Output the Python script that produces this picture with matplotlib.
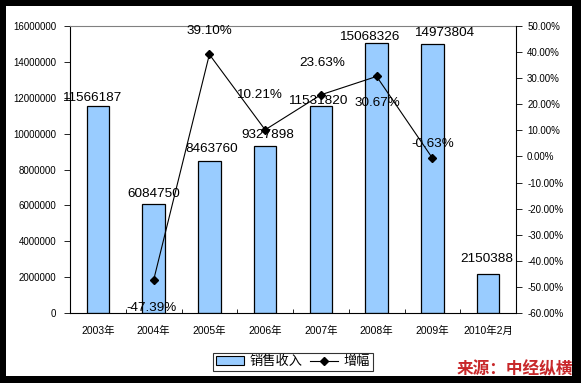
import matplotlib.pyplot as plt
import matplotlib.patches as mpatches
from matplotlib.lines import Line2D
import numpy as np

plt.rcParams['font.family'] = ['Liberation Sans', 'Noto Sans CJK SC', 'DejaVu Sans']

# data
categories = ['2003年', '2004年', '2005年', '2006年', '2007年', '2008年', '2009年', '2010年2月']
sales = [11566187, 6084750, 8463760, 9327898, 11531820, 15068326, 14973804, 2150388]
growth_idx = [1, 2, 3, 4, 5, 6]
growth = [-47.39, 39.10, 10.21, 23.63, 30.67, -0.63]

# label offsets in pixels (dx, dy), only for placement
sales_off = [(-6, 8), (0, 10), (2, 12), (3, 11), (-3, 5), (-7, 6), (12, 11), (-1, 15)]
growth_off = [(-2, -28), (0, 23), (-6, 35), (1, 32), (1, -27), (0, 14)]

fig = plt.figure(figsize=(5.81, 3.83), dpi=100, facecolor='black')
fig.patches.append(mpatches.Rectangle((6 / 581, 1 - 376 / 383), 566 / 581, 370 / 383,
                                      transform=fig.transFigure, facecolor='white',
                                      edgecolor='none', zorder=-5))

ax = fig.add_axes([70 / 581, 1 - 313 / 383, 446 / 581, 287 / 383])
ax.set_facecolor('white')
x = np.arange(len(categories))
ax.bar(x, sales, width=0.4, color='#99ccff', edgecolor='black', linewidth=0.9, zorder=2)
ax.set_xlim(-0.5, len(categories) - 0.5)
ax.set_ylim(0, 16000000)
ax.set_yticks(np.arange(0, 16000001, 2000000))
ax.set_yticklabels([str(v) for v in range(0, 16000001, 2000000)], fontsize=7)
ax.set_xticks(x)
ax.set_xticklabels(categories, fontsize=7.5)
ax.set_xticks(np.arange(-0.5, len(categories), 1), minor=True)
ax.tick_params(axis='x', which='major', length=0, pad=9)
ax.tick_params(axis='x', which='minor', direction='in', length=3, width=0.6)
ax.tick_params(axis='y', direction='out', length=4, width=0.6, pad=6)
ax.spines['top'].set_color('#808080')
ax.spines['top'].set_linewidth(0.8)
ax.spines['right'].set_visible(False)
ax.spines['left'].set_linewidth(0.8)
ax.spines['bottom'].set_linewidth(0.8)

for i, v in enumerate(sales):
    dx, dy = sales_off[i]
    ax.annotate(str(v), (x[i], v), xytext=(dx * 0.72, dy * 0.72), textcoords='offset points',
                ha='center', va='center', fontsize=9.7, zorder=5)

ax2 = ax.twinx()
ax2.set_ylim(-60, 50)
ax2.set_yticks(np.arange(-60, 51, 10))
ax2.set_yticklabels(['%.2f%%' % v for v in np.arange(-60, 51, 10)], fontsize=7)
ax2.tick_params(axis='y', direction='out', length=4, width=0.6, pad=4)
for s in ['top', 'left', 'bottom']:
    ax2.spines[s].set_visible(False)
ax2.spines['right'].set_linewidth(0.8)
ax2.plot(growth_idx, growth, color='black', linewidth=0.8, marker='D', markersize=4, zorder=4)
for i, g in enumerate(growth):
    dx, dy = growth_off[i]
    ax2.annotate('%.2f%%' % g, (growth_idx[i], g), xytext=(dx * 0.72, dy * 0.72),
                 textcoords='offset points', ha='center', va='center', fontsize=9.7, zorder=5)

handles = [mpatches.Patch(facecolor='#99ccff', edgecolor='black', linewidth=0.8, label='销售收入'),
           Line2D([0], [0], color='black', linewidth=0.8, marker='D', markersize=4, label='增幅')]
leg = fig.legend(handles=handles, loc='center', bbox_to_anchor=(293 / 581, 1 - 362 / 383),
                 ncol=2, fontsize=9.5, frameon=True, fancybox=False, edgecolor='black',
                 borderpad=0.25, handlelength=2.1, columnspacing=0.6, handletextpad=0.4)
leg.get_frame().set_linewidth(0.8)

fig.text(573 / 581, 1 - 369 / 383, '来源：中经纵横', ha='right', va='center', fontsize=12,
         fontweight='bold', fontstyle='italic', color='#c8282a',
         family=['Noto Sans CJK SC', 'DejaVu Sans'])

plt.savefig('out.png', dpi=100, facecolor='black')
